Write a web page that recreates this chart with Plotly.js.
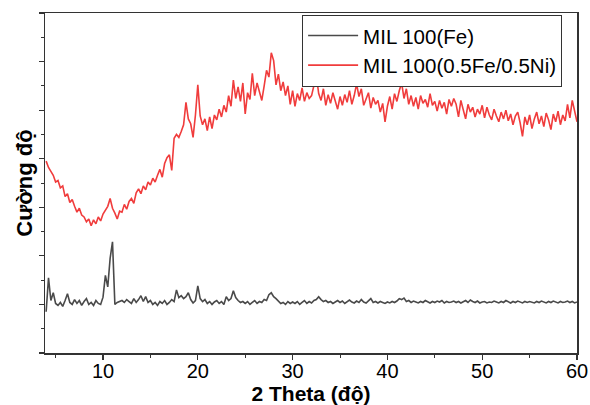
<!DOCTYPE html>
<html>
<head>
<meta charset="utf-8">
<script src="https://cdn.plot.ly/plotly-3.0.1.min.js"></script>
<style>html,body{margin:0;padding:0;background:#fff;}#chart{width:590px;height:405px;}</style>
</head>
<body>
<div id="chart"></div>
<script>
const twoTheta = [
4,4.25,4.5,4.75,5,5.25,5.5,5.75,6,6.25,6.5,6.75,7,7.25,7.5,7.75,8,8.25,8.5,8.75,9,9.25,9.5,9.75,
10,10.25,10.5,10.75,11,11.25,11.5,11.75,12,12.25,12.5,12.75,13,13.25,13.5,13.75,14,14.25,14.5,14.75,
15,15.25,15.5,15.75,16,16.25,16.5,16.75,17,17.25,17.5,17.75,18,18.25,18.5,18.75,19,19.25,19.5,19.75,
20,20.25,20.5,20.75,21,21.25,21.5,21.75,22,22.25,22.5,22.75,23,23.25,23.5,23.75,24,24.25,24.5,24.75,
25,25.25,25.5,25.75,26,26.25,26.5,26.75,27,27.25,27.5,27.75,28,28.25,28.5,28.75,29,29.25,29.5,29.75,
30,30.25,30.5,30.75,31,31.25,31.5,31.75,32,32.25,32.5,32.75,33,33.25,33.5,33.75,34,34.25,34.5,34.75,
35,35.25,35.5,35.75,36,36.25,36.5,36.75,37,37.25,37.5,37.75,38,38.25,38.5,38.75,39,39.25,39.5,39.75,
40,40.25,40.5,40.75,41,41.25,41.5,41.75,42,42.25,42.5,42.75,43,43.25,43.5,43.75,44,44.25,44.5,44.75,
45,45.25,45.5,45.75,46,46.25,46.5,46.75,47,47.25,47.5,47.75,48,48.25,48.5,48.75,49,49.25,49.5,49.75,
50,50.25,50.5,50.75,51,51.25,51.5,51.75,52,52.25,52.5,52.75,53,53.25,53.5,53.75,54,54.25,54.5,54.75,
55,55.25,55.5,55.75,56,56.25,56.5,56.75,57,57.25,57.5,57.75,58,58.25,58.5,58.75,59,59.25,59.5,59.75,
60];

const intensityFe = [
0.85,1.55,1.08,1.24, 1.02,0.98,1.04,0.96, 1.08,1.22,1.04,1.00, 1.10,1.02,1.08,0.98, 1.06,1.12,1.00,1.04, 0.98,1.08,1.02,1.00,
1.15,1.60,1.36,1.95, 2.29,1.00,1.04,1.06, 1.08,1.04,1.10,1.06, 1.02,1.12,1.04,1.10, 1.18,1.06,1.16,1.04,
1.08,1.00,1.04,0.98, 1.06,1.02,1.08,1.00, 1.04,1.10,1.06,1.30, 1.14,1.18,1.12,1.16, 1.24,1.10,1.03,1.08,
1.38,1.12,1.06,1.10, 1.02,1.06,1.00,1.05, 1.08,1.02,1.06,1.00, 1.16,1.08,1.12,1.28, 1.14,1.08,1.04,1.06,
1.02,1.06,1.00,1.04, 1.08,1.02,1.06,1.04, 1.10,1.08,1.20,1.24, 1.16,1.12,1.06,1.02, 1.04,1.00,1.06,1.02,
1.05,1.02,1.06,1.00, 1.04,1.08,1.02,1.06, 1.03,1.08,1.10,1.16, 1.10,1.06,1.08,1.04, 1.06,1.02,1.05,1.08,
1.04,1.07,1.02,1.06, 1.09,1.05,1.03,1.07, 1.04,1.10,1.05,1.03, 1.08,1.12,1.04,1.06, 1.03,1.06,1.04,1.02,
1.05,1.03,1.06,1.04, 1.07,1.12,1.10,1.13, 1.06,1.08,1.04,1.07, 1.05,1.03,1.06,1.04, 1.08,1.05,1.03,1.06,
1.04,1.07,1.05,1.08, 1.03,1.06,1.04,1.05, 1.07,1.04,1.06,1.03, 1.05,1.08,1.04,1.09, 1.06,1.04,1.07,1.03,
1.05,1.06,1.03,1.05, 1.04,1.07,1.05,1.03, 1.06,1.04,1.08,1.05, 1.03,1.06,1.04,1.07, 1.05,1.03,1.06,1.04,
1.06,1.04,1.03,1.06, 1.04,1.07,1.05,1.03, 1.06,1.04,1.07,1.05, 1.03,1.06,1.04,1.05, 1.07,1.04,1.06,1.03,
1.05];

const intensityFeNi = [
3.95,3.82,3.74,3.66, 3.52,3.55,3.40,3.44, 3.22,3.28,3.10,3.16, 3.02,2.90,2.98,2.84, 2.80,2.70,2.76,2.62, 2.74,2.66,2.80,2.72,
2.86,2.94,3.02,3.18, 2.98,2.88,2.76,2.92, 2.90,3.06,2.96,3.12, 3.18,3.08,3.30,3.38, 3.28,3.44,3.36,3.52,
3.46,3.60,3.52,3.66, 3.78,3.62,3.90,4.02, 4.08,3.76,4.42,4.50, 4.44,4.56,4.70,5.16, 4.82,4.72,4.44,4.90,
5.52,4.88,4.70,4.82, 4.58,4.86,4.62,4.90, 4.80,5.02,4.86,5.10, 4.96,5.30,5.08,5.62, 5.24,5.48,5.18,5.56,
4.92,5.36,5.22,5.76, 5.30,5.56,5.36,5.20, 5.50,5.82,5.68,6.18, 6.02,5.52,5.74,5.40, 5.58,5.30,5.50,5.12,
5.40,5.08,5.34,5.20, 5.46,5.18,5.36,5.24, 5.30,5.52,5.72,5.34, 5.20,5.44,5.10,5.32, 5.14,5.36,5.20,5.02,
5.28,5.10,5.32,5.16, 5.40,5.12,5.30,5.54, 5.28,5.44,5.10,5.22, 5.36,5.04,5.26,5.12, 5.20,4.96,5.14,4.76,
5.08,5.28,5.02,5.34, 5.18,5.40,5.56,5.24, 5.44,5.12,5.30,5.08, 5.26,5.02,5.30,5.14, 5.22,5.06,5.34,5.10,
5.18,4.98,5.20,5.04, 5.16,4.92,5.22,5.08, 5.24,5.12,4.86,5.20, 5.00,4.82,5.12,4.96, 5.06,4.86,5.02,4.92,
5.10,4.84,5.06,4.90, 4.80,5.02,4.88,4.76, 4.96,4.82,5.00,4.78, 4.92,4.70,4.88,4.96, 4.74,4.46,4.86,4.70,
4.90,4.62,4.82,4.96, 4.72,4.88,4.66,4.94, 4.80,4.60,4.92,4.76, 4.98,4.70,4.90,4.78, 5.12,4.84,5.20,4.96,
4.76];

const seriesNames = ['MIL 100(Fe)', 'MIL 100(0.5Fe/0.5Ni)'];
const xTickVals = [10, 20, 30, 40, 50, 60];
const xMinorVals = [5, 15, 25, 35, 45, 55];

const traces = [
  {x: twoTheta, y: intensityFe, name: seriesNames[0], type: 'scatter', mode: 'lines',
   line: {color: '#4a4a4a', width: 1.6}},
  {x: twoTheta, y: intensityFeNi, name: seriesNames[1], type: 'scatter', mode: 'lines',
   line: {color: '#f03c3c', width: 1.6}}
];

const layout = {
  width: 590, height: 405,
  margin: {l: 45, r: 13, t: 13, b: 52},
  paper_bgcolor: '#fff', plot_bgcolor: '#fff',
  font: {family: 'Liberation Sans, Arial, sans-serif', color: '#000'},
  showlegend: true,
  legend: {x: 0.972, y: 0.995, xanchor: 'right', yanchor: 'top',
    bordercolor: '#333', borderwidth: 1, bgcolor: '#fff', itemwidth: 50,
    font: {size: 20.5, family: 'Liberation Sans, Arial, sans-serif'}, tracegroupgap: 0},
  xaxis: {
    range: [3.88, 60], showgrid: false, zeroline: false,
    showline: true, linecolor: '#333', linewidth: 1.5, mirror: true,
    ticks: 'outside', ticklen: 5, tickwidth: 1.2, tickcolor: '#333',
    tickvals: xTickVals, ticklabelstandoff: -6,
    minor: {ticks: 'outside', ticklen: 3, tickwidth: 1, tickcolor: '#333', tickvals: xMinorVals},
    tickfont: {size: 20},
    title: {text: '<b>2 Theta (độ)</b>', font: {size: 21}, standoff: 6}
  },
  yaxis: {
    range: [0, 7], showgrid: false, zeroline: false,
    showline: true, linecolor: '#333', linewidth: 1.5, mirror: true,
    ticks: 'outside', ticklen: 5, tickwidth: 1.2, tickcolor: '#333',
    dtick: 1, tick0: 0, showticklabels: false,
    minor: {ticks: 'outside', ticklen: 3, tickwidth: 1, tickcolor: '#333', dtick: 0.5},
    title: {text: '<b>Cường độ</b>', font: {size: 22}, standoff: 0}
  }
};

Plotly.newPlot('chart', traces, layout, {displayModeBar: false, staticPlot: true});
</script>
</body>
</html>
